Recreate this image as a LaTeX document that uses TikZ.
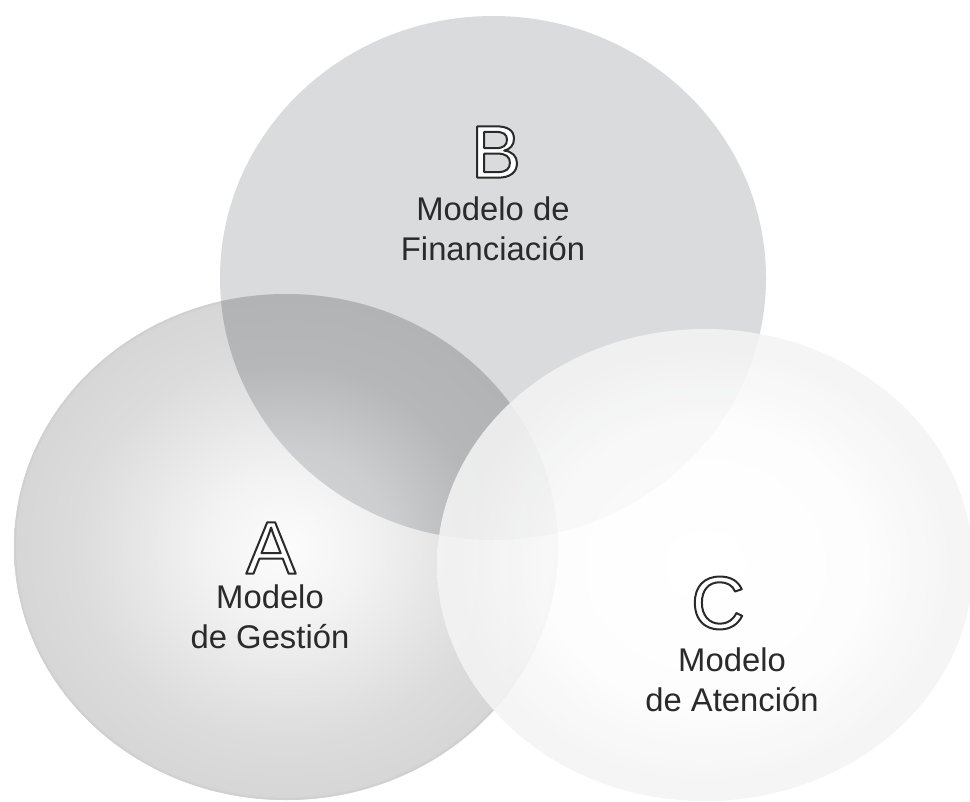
\documentclass[tikz,border=0pt]{standalone}
\usepackage{fontspec}
\setmainfont{Liberation Sans}
\definecolor{bfill}{HTML}{DADBDC}
\definecolor{acenter}{HTML}{FCFCFC}
\definecolor{amid}{HTML}{F3F3F3}
\definecolor{aout}{HTML}{DCDCDC}
\definecolor{aedge}{HTML}{D6D6D6}
\definecolor{arim}{HTML}{D0D0D0}
\definecolor{lcenter}{HTML}{D8D8D9}
\definecolor{lmid}{HTML}{CCCDCE}
\definecolor{lout}{HTML}{B6B7B9}
\definecolor{ledge}{HTML}{B2B3B5}
\definecolor{ccenter}{HTML}{FFFFFF}
\definecolor{cmid}{HTML}{FDFDFD}
\definecolor{cout}{HTML}{F4F4F4}
\definecolor{txt}{HTML}{2A2A2A}
\pgfdeclareradialshading{ashade}{\pgfpoint{0bp}{0bp}}{color(0bp)=(acenter); color(7bp)=(amid); color(19bp)=(aout); color(25bp)=(aedge); color(50bp)=(aedge)}
\pgfdeclareradialshading{lshade}{\pgfpoint{0bp}{0bp}}{color(0bp)=(lcenter); color(10bp)=(lmid); color(18bp)=(lout); color(25bp)=(ledge); color(50bp)=(ledge)}
\pgfdeclareradialshading{cshade}{\pgfpoint{0bp}{0bp}}{color(0bp)=(ccenter); color(15bp)=(cmid); color(23bp)=(cout); color(25bp)=(cout); color(50bp)=(cout)}
\newcommand{\outlineletter}[1]{{\color{white}\special{pdf:code 2 Tr 1.5 w 1 j 0.165 0.165 0.165 RG}#1\special{pdf:code 0 Tr}}}
\tikzset{
  bigletter/.style={inner sep=0pt, font=\fontsize{56pt}{56pt}\selectfont},
  modeltext/.style={inner sep=0pt, align=center, text=txt, font=\fontsize{24.6pt}{30pt}\selectfont},
  rim/.style={draw=arim, line width=1.5pt}
}
\begin{document}
\begin{tikzpicture}[x=0.75pt,y=-0.75pt]
\useasboundingbox (0,0) rectangle (970,802);
\fill[white] (0,0) rectangle (970,802);
% circle B
\fill[bfill] (493,278) ellipse [x radius=273, y radius=262];
% circle A
\shade[shading=ashade] (286,547) ellipse [x radius=272, y radius=253];
\draw[rim] (286,547) ellipse [x radius=271, y radius=252];
% overlap A and B
\begin{scope}
  \clip (493,278) ellipse [x radius=273, y radius=262];
  \shade[shading=lshade] (286,547) ellipse [x radius=272, y radius=253];
\end{scope}
% circle C
\shade[shading=cshade, opacity=0.87] (705,565) ellipse [x radius=268, y radius=236];
% texts
\node[bigletter] (letB) at (496,152) {\outlineletter{B}};
\node[modeltext] (txtB) at (493,229) {Modelo de\\Financiación};
\node[bigletter] (letA) at (271,548) {\outlineletter{A}};
\node[modeltext] (txtA) at (270,617) {Modelo\\de Gestión};
\node[bigletter] (letC) at (718,603) {\outlineletter{C}};
\node[modeltext] (txtC) at (732,680) {Modelo\\de Atención};
\end{tikzpicture}
\end{document}
